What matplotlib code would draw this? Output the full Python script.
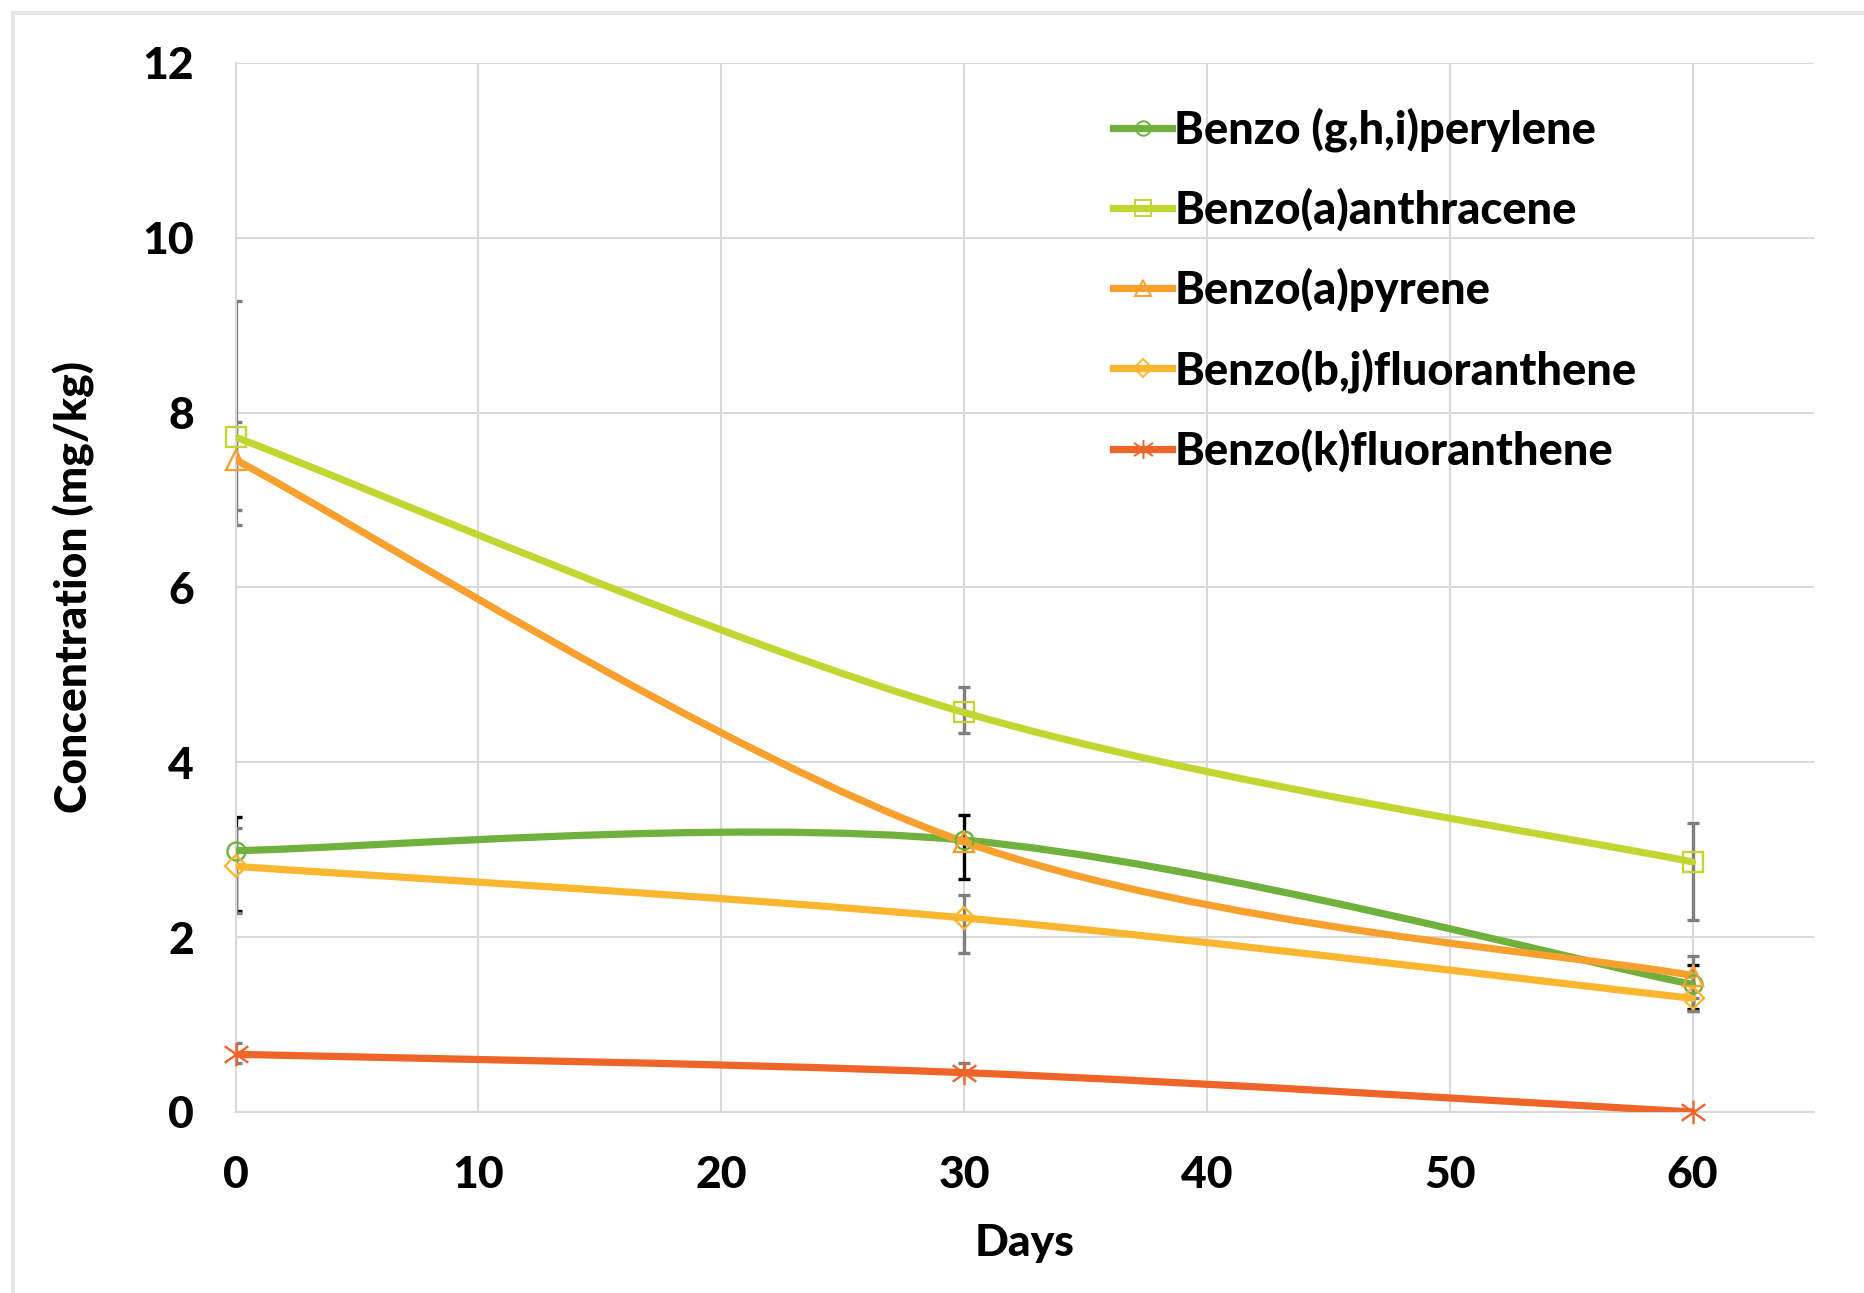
#!/usr/bin/env python3
"""
PAH concentrations over the incubation period, with smoothed lines and error bars.
"""

import numpy as np
import matplotlib
matplotlib.use('Agg')
import matplotlib.pyplot as plt
from matplotlib.path import Path
from matplotlib.patches import PathPatch, Rectangle
from matplotlib.lines import Line2D

plt.rcParams['font.family'] = ['Lato', 'DejaVu Sans']
plt.rcParams['font.weight'] = 'black'
plt.rcParams['axes.labelweight'] = 'black'

# Data
days = [0, 30, 60]
names = ['Benzo (g,h,i)perylene', 'Benzo(a)anthracene', 'Benzo(a)pyrene',
         'Benzo(b,j)fluoranthene', 'Benzo(k)fluoranthene']
perylene = [2.99, 3.11, 1.46]
anthracene = [7.72, 4.57, 2.86]
pyrene = [7.46, 3.09, 1.56]
bj_fluor = [2.81, 2.22, 1.30]
k_fluor = [0.66, 0.45, 0.00]

# error bars (lower, upper)
perylene_err = [[0.69, 0.45, 0.28], [0.39, 0.29, 0.22]]
anthracene_err = [[1.00, 0.23, 0.66], [1.56, 0.29, 0.45]]
pyrene_err = [[0.57, 0.0, 0.40], [0.43, 0.0, 0.22]]
bj_fluor_err = [[0.53, 0.40, 0.14], [0.44, 0.26, 0.0]]
k_fluor_err = [[0.10, 0.0, 0.0], [0.13, 0.11, 0.0]]

series = [perylene, anthracene, pyrene, bj_fluor, k_fluor]
errors = [perylene_err, anthracene_err, pyrene_err, bj_fluor_err, k_fluor_err]
colors = ['#70B03C', '#C2D631', '#F7A02E', '#FBB630', '#EF6428']
ecolors = ['black', '#7F7F7F', '#7F7F7F', '#7F7F7F', '#7F7F7F']

# excel style asterisk marker
star = Path([(0, -1), (0, 1), (-1, -0.7), (1, 0.7), (-1, 0.7), (1, -0.7)],
            [Path.MOVETO, Path.LINETO] * 3)
markers = ['o', 's', '^', 'D', star]
msizes = [13, 14, 14, 11, 17]


def smooth_path(xs, ys):
    # Catmull-Rom style bezier segments, like Excel's smoothed line
    n = len(xs)
    verts = [(xs[0], ys[0])]
    codes = [Path.MOVETO]
    for i in range(n - 1):
        a = i - 1 if i > 0 else i
        b = i + 2 if i + 2 < n else i + 1
        c1 = (xs[i] + (xs[i + 1] - xs[a]) / 6, ys[i] + (ys[i + 1] - ys[a]) / 6)
        c2 = (xs[i + 1] - (xs[b] - xs[i]) / 6, ys[i + 1] - (ys[b] - ys[i]) / 6)
        verts += [c1, c2, (xs[i + 1], ys[i + 1])]
        codes += [Path.CURVE4] * 3
    return Path(verts, codes)


fig = plt.figure(figsize=(18.65, 12.93), dpi=100)
ax = fig.add_axes([0.1263, 0.140, 0.8464, 0.8113])

# outer chart border
fig.patches.append(Rectangle((13 / 1865, -0.05), 1.1, 1.05 - 13 / 1293, transform=fig.transFigure,
                             fill=False, edgecolor='#E6E6E6', lw=3))

for i in range(len(series)):
    ax.errorbar(days, series[i], yerr=errors[i], fmt='none', ecolor=ecolors[i],
                elinewidth=2.4, capsize=4.5, capthick=2.4, zorder=2)

for i in range(len(series)):
    ax.add_patch(PathPatch(smooth_path(days, series[i]), fill=False, edgecolor=colors[i],
                           lw=5.2, capstyle='round', zorder=3))
    ax.plot(days, series[i], linestyle='none', marker=markers[i], ms=msizes[i],
            mfc='none', mec=colors[i], mew=1.7, zorder=4, clip_on=False)

ax.set_xlim(0, 65)
ax.set_ylim(0, 12)
ax.set_xticks(range(0, 61, 10))
ax.set_yticks(range(0, 13, 2))
ax.grid(True, color='#D9D9D9', lw=1.5)
ax.set_axisbelow(True)
for side in ['top', 'right']:
    ax.spines[side].set_visible(False)
for side in ['left', 'bottom']:
    ax.spines[side].set_color('#D9D9D9')
    ax.spines[side].set_linewidth(1.5)
ax.tick_params(length=0, labelsize=32, pad=30)
ax.tick_params(axis='x', pad=31)

ax.set_xlabel('Days', fontsize=32, labelpad=20)
ax.set_ylabel('Concentration (mg/kg)', fontsize=32, labelpad=34)

handles = [Line2D([], [], color=colors[i], lw=5.2, marker=markers[i], ms=msizes[i] * 0.8,
                  mfc='none', mec=colors[i], mew=1.4) for i in range(len(series))]
ax.legend(handles, names, loc='upper left', bbox_to_anchor=(0.597, 0.917),
          bbox_transform=fig.transFigure, frameon=False, fontsize=32.5,
          handlelength=1.3, handletextpad=0.05, labelspacing=0.8, borderpad=0,
          borderaxespad=0)

plt.savefig('out.png', dpi=100)
